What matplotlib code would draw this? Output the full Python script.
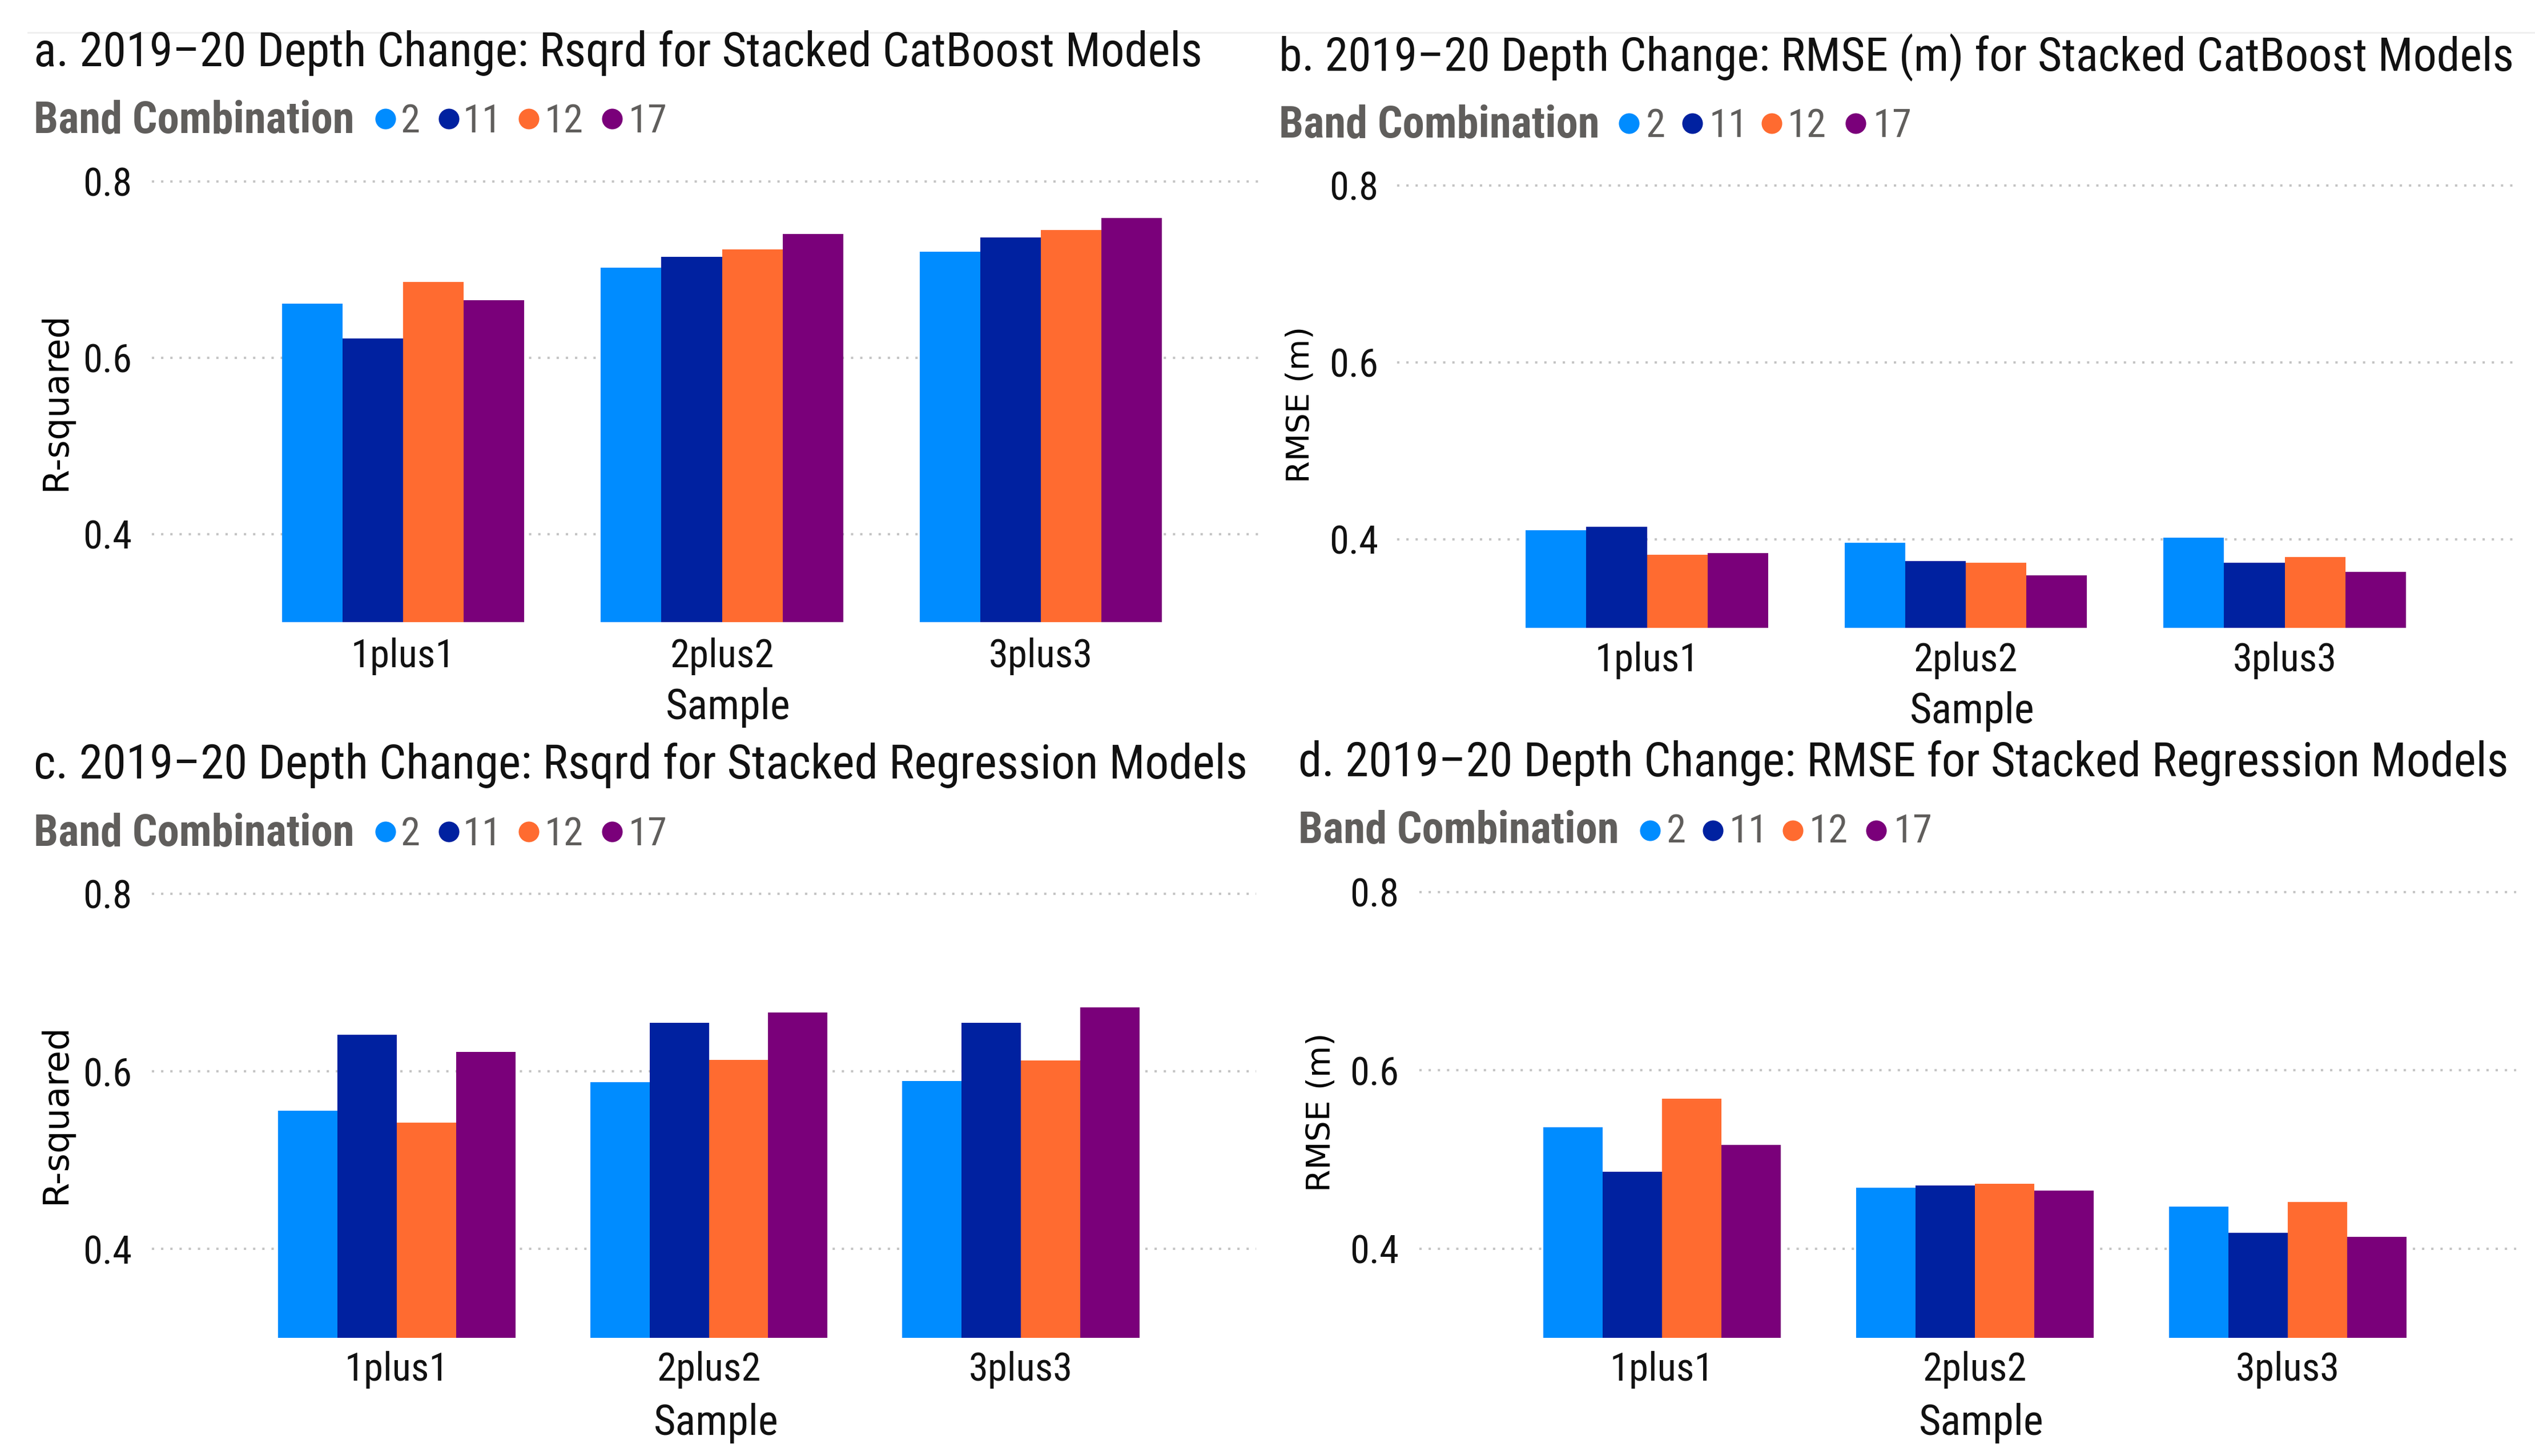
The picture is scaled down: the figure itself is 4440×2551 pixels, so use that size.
import os
import matplotlib
matplotlib.use("Agg")
import matplotlib.pyplot as plt
from matplotlib import font_manager as fm
from matplotlib.lines import Line2D
import numpy as np

samples = ["1plus1", "2plus2", "3plus3"]
bands = ["2", "11", "12", "17"]

# rows follow bands (2, 11, 12, 17), columns follow samples
rsq_catboost = [
    [0.661, 0.702, 0.720],
    [0.622, 0.714, 0.736],
    [0.686, 0.723, 0.745],
    [0.665, 0.740, 0.758],
]
rmse_catboost = [
    [0.410, 0.396, 0.402],
    [0.414, 0.375, 0.373],
    [0.382, 0.373, 0.380],
    [0.384, 0.359, 0.363],
]
rsq_regression = [
    [0.556, 0.588, 0.589],
    [0.641, 0.655, 0.655],
    [0.542, 0.613, 0.612],
    [0.622, 0.666, 0.672],
]
rmse_regression = [
    [0.536, 0.468, 0.447],
    [0.486, 0.471, 0.418],
    [0.568, 0.473, 0.452],
    [0.516, 0.465, 0.413],
]

titles = [
    "a. 2019\u201320 Depth Change: Rsqrd for Stacked CatBoost Models",
    "b. 2019\u201320 Depth Change: RMSE (m) for Stacked CatBoost Models",
    "c. 2019\u201320 Depth Change: Rsqrd for Stacked Regression Models",
    "d. 2019\u201320 Depth Change: RMSE for Stacked Regression Models",
]
ylabels = ["R-squared", "RMSE (m)", "R-squared", "RMSE (m)"]
yticks = [0.4, 0.6, 0.8]

colors = ["#008CFF", "#0021A0", "#FF6B30", "#7A007A"]
grey = "#605E5C"

# find a condensed face for the Power BI look
files = {os.path.basename(f.fname).lower(): f.fname for f in fm.fontManager.ttflist}


def find_font(cands, fallback):
    for c in cands:
        if c in files:
            return fm.FontProperties(fname=files[c])
    return fallback


cond = find_font(["robotocondensed-regular.ttf", "dejavusanscondensed.ttf",
                  "liberationsansnarrow-regular.ttf"],
                 fm.FontProperties(family="DejaVu Sans", stretch="condensed"))
cond_bold = find_font(["robotocondensed-bold.ttf", "dejavusanscondensed-bold.ttf",
                       "liberationsansnarrow-bold.ttf"],
                      fm.FontProperties(family="DejaVu Sans", weight="bold", stretch="condensed"))
wide = fm.FontProperties(family="DejaVu Sans")

W, H = 4440, 2551
fig = plt.figure(figsize=(W / 100, H / 100), dpi=100)
renderer = fig.canvas.get_renderer()


def fx(px):
    return px / W


def fy(py):
    return 1 - py / H


def fit(t, size, horiz=True):
    bb = t.get_window_extent(renderer)
    cur = bb.width if horiz else bb.height
    t.set_fontsize(t.get_fontsize() * size / cur)
    return t.get_fontsize()


# reference sizes for tick text
probe = fig.text(0, 0, "1plus1", fontproperties=cond, fontsize=40)
tick_fs = fit(probe, 182)
probe.remove()
probe = fig.text(0, 0, "Band Combination", fontproperties=cond_bold, fontsize=40)
band_fs = fit(probe, 562)
probe.remove()

# layout of each panel in pixels of the output image
layout = [
    dict(tx=59, tb=116, tw=2046, yl=(98, 703), yll=311, lb=232, my=208, bx=59,
         mx=[675, 786, 926, 1072], nx=[702, 811, 954, 1101],
         L=266, R=2212, y03=1090, y08=317.6, c0=706, sp=558.5,
         ytr=231, xtt=1129, xlt=1212, xlc=1275),
    dict(tx=2240, tb=124, tw=2160, yl=(2278, 709), yll=274, lb=240, my=216, bx=2240,
         mx=[2853, 2964, 3103, 3250], nx=[2883, 2994, 3131, 3281],
         L=2447, R=4407, y03=1099.5, y08=325, c0=2884.5, sp=558.5,
         ytr=2414, xtt=1136, xlt=1219, xlc=3454),
    dict(tx=59, tb=1364, tw=2123, yl=(98, 1951), yll=316, lb=1481, my=1457, bx=59,
         mx=[675, 786, 926, 1072], nx=[702, 811, 954, 1101],
         L=266, R=2200, y03=2343.7, y08=1566, c0=695, sp=546.5,
         ytr=231, xtt=2379, xlt=2466, xlc=1254),
    dict(tx=2274, tb=1360, tw=2119, yl=(2314, 1949), yll=278, lb=1476, my=1455, bx=2274,
         mx=[2890, 3000, 3140, 3286], nx=[2919, 3029, 3169, 3317],
         L=2486, R=4407, y03=2343.8, y08=1563, c0=2911, sp=548,
         ytr=2450, xtt=2379, xlt=2466, xlc=3470),
]

panels = [rsq_catboost, rmse_catboost, rsq_regression, rmse_regression]
ymin, ymax = 0.30, 0.81
bar_w = 0.19

for values, title, ylab, lo in zip(panels, titles, ylabels, layout):
    ppu = (lo["y03"] - lo["y08"]) / (0.8 - ymin)
    top = lo["y08"] - (ymax - 0.8) * ppu
    ax = fig.add_axes([fx(lo["L"]), fy(lo["y03"]), (lo["R"] - lo["L"]) / W, (lo["y03"] - top) / H])

    def ax_x(px):
        return (px - lo["L"]) / (lo["R"] - lo["L"])

    def ax_y(py):
        return (lo["y03"] - py) / (lo["y03"] - top)

    x = np.arange(len(samples))
    for i, band in enumerate(bands):
        ax.bar(x + (i - 1.5) * bar_w, values[i], width=bar_w, color=colors[i],
               linewidth=0, zorder=3)

    ax.set_xlim((lo["L"] - lo["c0"]) / lo["sp"], (lo["R"] - lo["c0"]) / lo["sp"])
    ax.set_ylim(ymin, ymax)
    for s in ax.spines.values():
        s.set_visible(False)
    ax.set_yticks(yticks, labels=[f"{v:.1f}" for v in yticks],
                  fontproperties=cond, fontsize=tick_fs, color="#111111")
    ax.set_xticks(x, labels=samples, fontproperties=cond, fontsize=tick_fs, color="#111111")
    ax.tick_params(axis="y", length=0, pad=(lo["L"] - lo["ytr"]) * 0.72)
    ax.tick_params(axis="x", length=0, pad=(lo["xtt"] - lo["y03"] - 12) * 0.72)
    ax.grid(axis="y", color="#c4c4c4", linestyle=(0, (1, 3)), linewidth=2.9, zorder=0)
    ax.set_axisbelow(True)

    ax.set_xlabel("Sample", fontproperties=cond, fontsize=tick_fs * 1.08, color="#111111")
    ax.xaxis.set_label_coords(ax_x(lo["xlc"]), ax_y(lo["xlt"] - 8))

    yl = ax.set_ylabel(ylab, fontproperties=wide, fontsize=40, color="#000000",
                       va="center", ha="center")
    ax.yaxis.set_label_coords(ax_x(lo["yl"][0]), ax_y(lo["yl"][1]))
    fit(yl, lo["yll"], horiz=False)

    t = fig.text(fx(lo["tx"]), fy(lo["tb"]), title, fontproperties=cond, fontsize=40,
                 color="#111111", va="baseline", ha="left")
    fit(t, lo["tw"])

    # legend row
    fig.text(fx(lo["bx"]), fy(lo["lb"]), "Band Combination", fontproperties=cond_bold,
             fontsize=band_fs, color=grey, va="baseline", ha="left")
    for band, c, mxp, nxp in zip(bands, colors, lo["mx"], lo["nx"]):
        fig.add_artist(Line2D([fx(mxp)], [fy(lo["my"])], marker="o", markersize=26,
                              markerfacecolor=c, markeredgewidth=0, linestyle="none"))
        fig.text(fx(nxp), fy(lo["lb"]), band, fontproperties=cond, fontsize=tick_fs,
                 color=grey, va="baseline", ha="left")

# faint rule at the very top
fig.add_artist(Line2D([fx(49), 1.0], [fy(57), fy(57)], color="#eeeeee", linewidth=2))

fig.savefig("out.png", dpi=100, facecolor="white")
